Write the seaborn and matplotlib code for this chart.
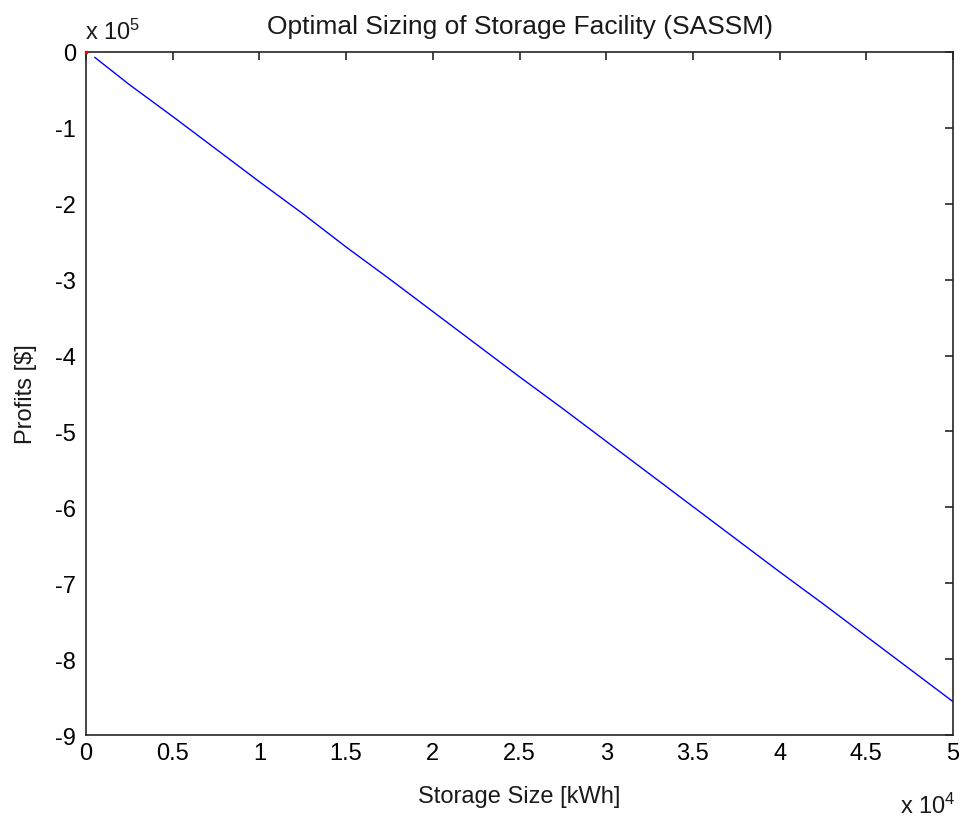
import numpy as np
import pandas as pd
import matplotlib
matplotlib.use("Agg")
import matplotlib.pyplot as plt
import seaborn as sns

# Data (storage size in kWh, profits in $)
storage_size = [500, 2500, 5000, 7500, 10000, 12500, 15000, 17500, 20000, 22500, 25000,
                27500, 30000, 32500, 35000, 37500, 40000, 42500, 45000, 47500, 50000]
profits = [-0.07e5, -0.43e5, -0.85e5, -1.28e5, -1.71e5, -2.13e5, -2.57e5, -2.99e5, -3.42e5,
           -3.85e5, -4.28e5, -4.70e5, -5.13e5, -5.56e5, -5.99e5, -6.42e5, -6.85e5, -7.27e5,
           -7.70e5, -8.13e5, -8.56e5]
origin_x = [0]
origin_y = [0]
x_ticks = [0, 0.5, 1, 1.5, 2, 2.5, 3, 3.5, 4, 4.5, 5]
y_ticks = [-9, -8, -7, -6, -5, -4, -3, -2, -1, 0]

sns.set_style("white")
plt.rcParams['font.family'] = ['Liberation Sans', 'DejaVu Sans']
plt.rcParams['mathtext.fontset'] = 'custom'
plt.rcParams['mathtext.rm'] = 'Liberation Sans'
plt.rcParams['mathtext.it'] = 'Liberation Sans'
plt.rcParams['mathtext.bf'] = 'Liberation Sans'

df = pd.DataFrame({"x": storage_size, "y": profits})

fig = plt.figure(figsize=(9.61, 8.2), dpi=100)
ax = fig.add_axes([0.0895, 0.1024, 0.9022, 0.833])
sns.lineplot(data=df, x="x", y="y", ax=ax, color="#0000ff", linewidth=1.0)
ax.plot(origin_x, origin_y, 's', color='red', markersize=2, clip_on=False, zorder=5)

ax.set_xlim(0, 50000)
ax.set_ylim(-9e5, 0)
ax.set_xticks([t * 1e4 for t in x_ticks])
ax.set_xticklabels([f"{t:g}" for t in x_ticks])
ax.set_yticks([t * 1e5 for t in y_ticks])
ax.set_yticklabels([f"{t:g}" for t in y_ticks])
ax.tick_params(direction='in', length=6, width=1.2, top=True, right=True,
               labelsize=17, colors='#262626', labelcolor='black')
ax.tick_params(axis='x', pad=5)
ax.tick_params(axis='y', pad=7)
for s in ax.spines.values():
    s.set_color('#262626')
    s.set_linewidth(1.2)

ax.set_xlabel("Storage Size [kWh]", fontsize=17, color='#1a1a1a')
ax.xaxis.label.set_va('center')
ax.xaxis.set_label_coords(0.5, -0.089)
ax.set_ylabel("Profits [$]", fontsize=17, color='#1a1a1a')
ax.yaxis.label.set_va('center')
ax.yaxis.set_label_coords(-0.0692, 0.5)
ax.set_title("Optimal Sizing of Storage Facility (SASSM)", fontsize=19, color='#1a1a1a', pad=14)

fig.text(0.0885, 0.951, r"x 10$^{5}$", fontsize=17, ha='left', va='baseline', color='#1a1a1a')
fig.text(0.994, 0.007, r"x 10$^{4}$", fontsize=17, ha='right', va='baseline', color='#1a1a1a')

fig.savefig("out.png", dpi=100, facecolor='white')
